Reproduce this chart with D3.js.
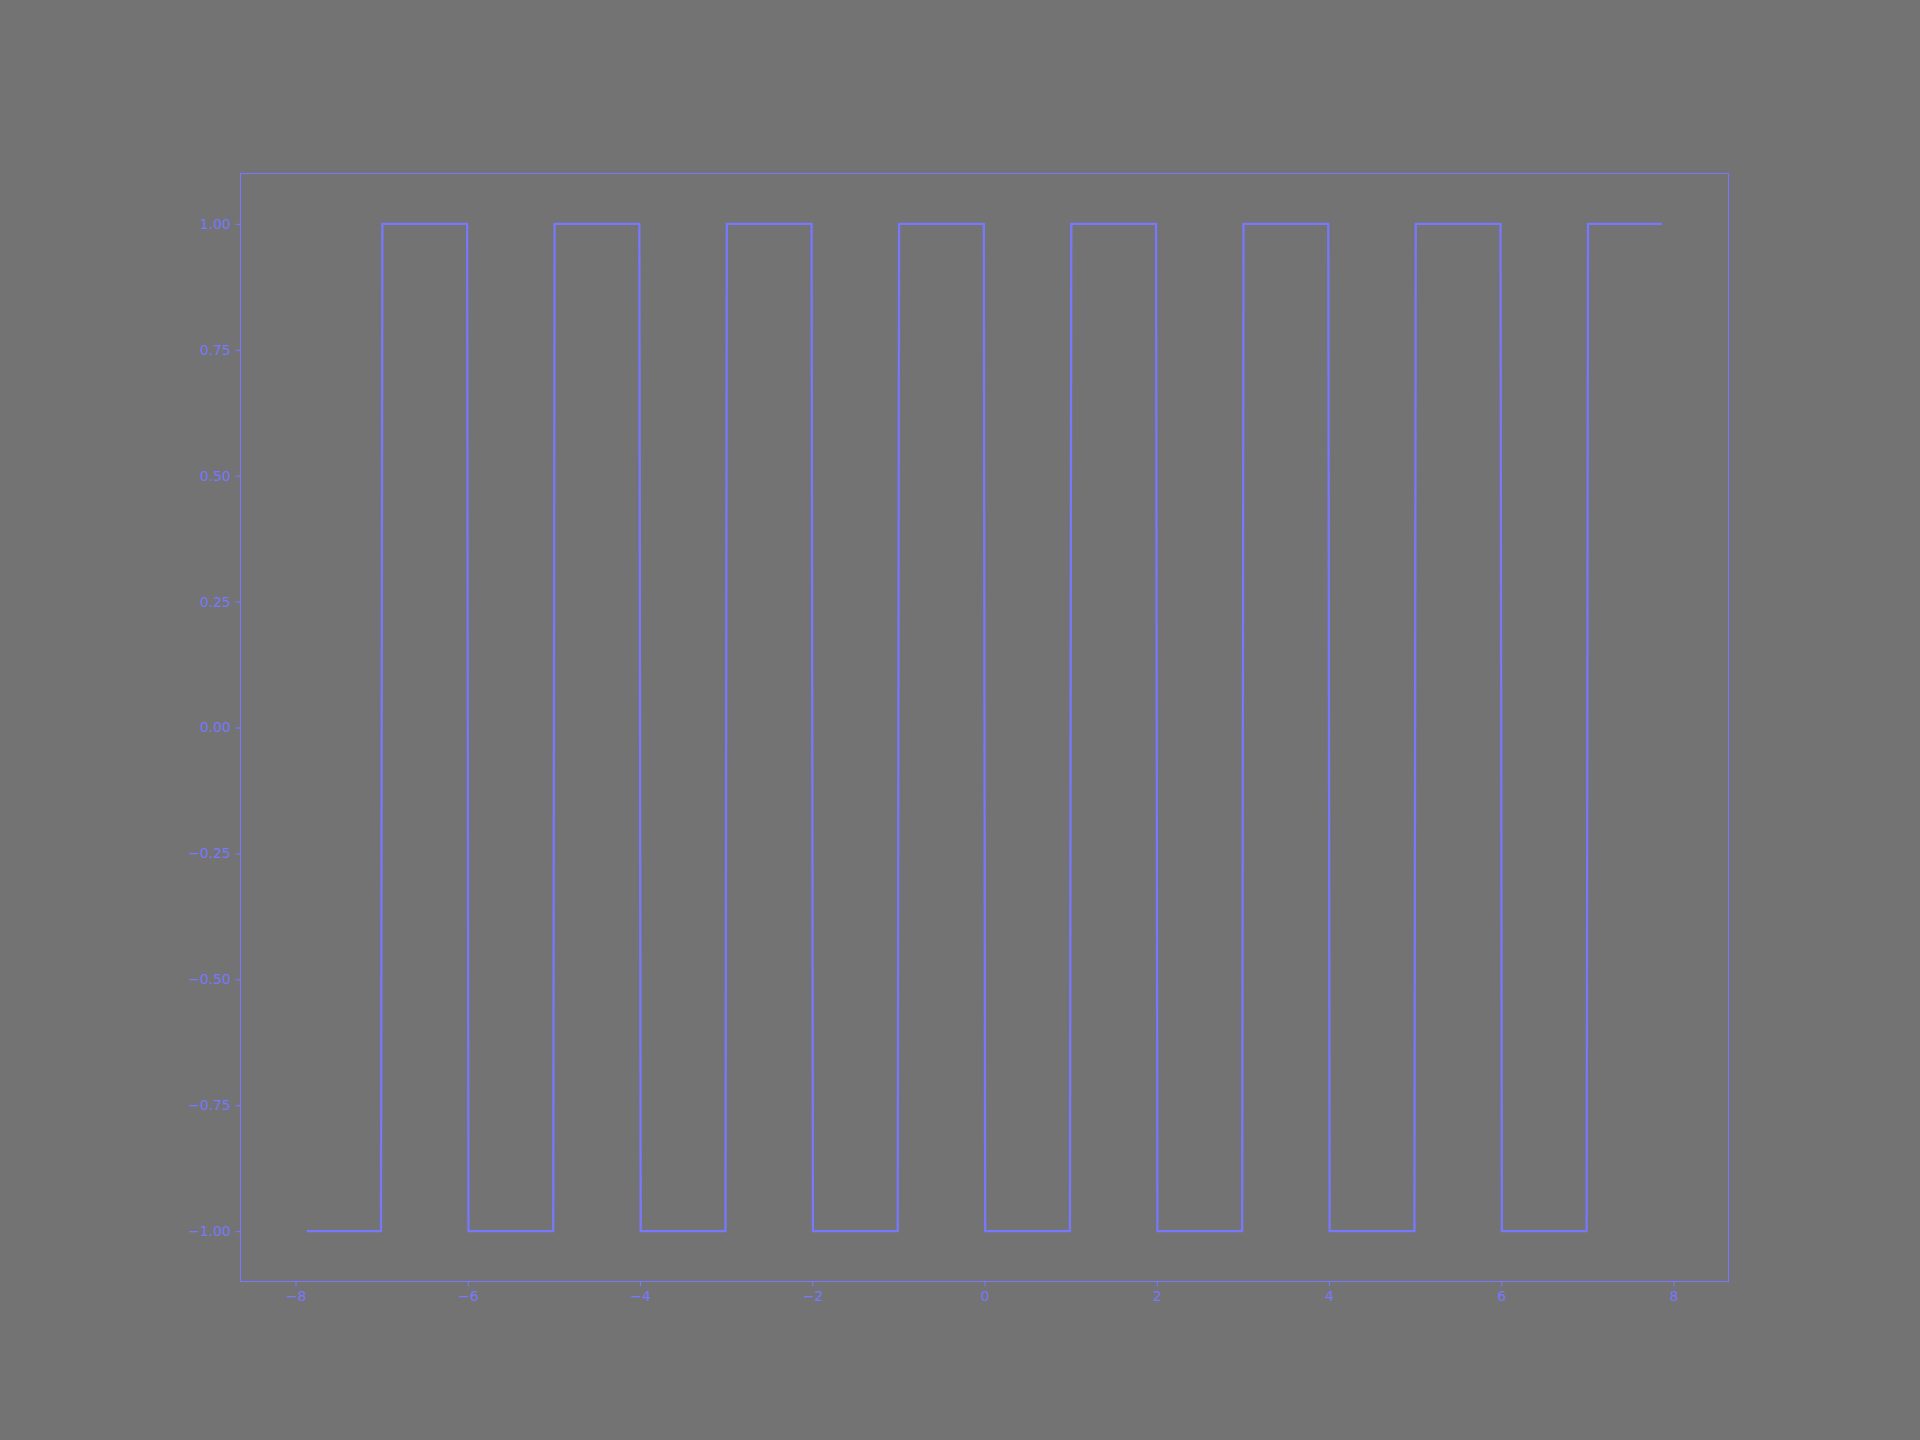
<!DOCTYPE html>
<html>
<head>
<meta charset="utf-8">
<script src="https://cdn.jsdelivr.net/npm/d3@7"></script>
<style>
  html, body { margin: 0; padding: 0; background: #737373; }
  svg { display: block; }
  text { font-family: "DejaVu Sans", sans-serif; }
</style>
</head>
<body>
<svg id="chart" width="1920" height="1440"></svg>
<script>
// ---- data ----
const xStart = -7.854;      // first sample
const xEnd = 7.854;         // last sample
const startLevel = -1;      // level before the first edge
const edges = [-7, -6, -5, -4, -3, -2, -1, 0, 1, 2, 3, 4, 5, 6, 7]; // x where the wave flips
const jumpWidth = 0.0157;   // sampling step across each flip
const xTicks = [-8, -6, -4, -2, 0, 2, 4, 6, 8];
const yTicks = [-1.00, -0.75, -0.50, -0.25, 0.00, 0.25, 0.50, 0.75, 1.00];

// build vertices
const pts = [[xStart, startLevel]];
let lvl = startLevel;
edges.forEach(e => {
  pts.push([e - jumpWidth / 2, lvl]);
  lvl = -lvl;
  pts.push([e + jumpWidth / 2, lvl]);
});
pts.push([xEnd, lvl]);

// ---- layout ----
const W = 1920, H = 1440;
const L = 240.5, R = 1728.5, T = 173.5, B = 1281.5;
const col = "#7878ff";
const bg = "#737373";

const svg = d3.select("#chart");
svg.append("rect").attr("width", W).attr("height", H).attr("fill", bg);

const xr = (xEnd - xStart) * 0.05;
const x = d3.scaleLinear().domain([xStart - xr, xEnd + xr]).range([L, R]);
const y = d3.scaleLinear().domain([-1.1, 1.1]).range([B, T]);

const minus = s => s.replace("-", "\u2212");

const line = d3.line().x(d => x(d[0])).y(d => y(d[1]));
svg.append("path").datum(pts)
  .attr("d", line)
  .attr("fill", "none")
  .attr("stroke", col)
  .attr("stroke-width", 2.3)
  .attr("stroke-linejoin", "round")
  .attr("stroke-linecap", "square");

// axes
const xAxis = d3.axisBottom(x).tickValues(xTicks).tickSize(4.9).tickPadding(4.9)
  .tickFormat(d => minus(d3.format("d")(d)));
const yAxis = d3.axisLeft(y).tickValues(yTicks).tickSize(4.9).tickPadding(4.9)
  .tickFormat(d => minus(d3.format(".2f")(d)));

const gx = svg.append("g").attr("transform", `translate(0,${B})`).call(xAxis);
const gy = svg.append("g").attr("transform", `translate(${L},0)`).call(yAxis);
[gx, gy].forEach(g => {
  g.select(".domain").remove();
  g.selectAll(".tick line").attr("stroke", col).attr("stroke-width", 1.1);
  g.selectAll(".tick text").attr("fill", col).attr("font-size", "13.9px")
    .attr("font-family", "DejaVu Sans, sans-serif");
});

// spines
svg.append("rect")
  .attr("x", L).attr("y", T).attr("width", R - L).attr("height", B - T)
  .attr("fill", "none").attr("stroke", col).attr("stroke-width", 1.1);
</script>
</body>
</html>
